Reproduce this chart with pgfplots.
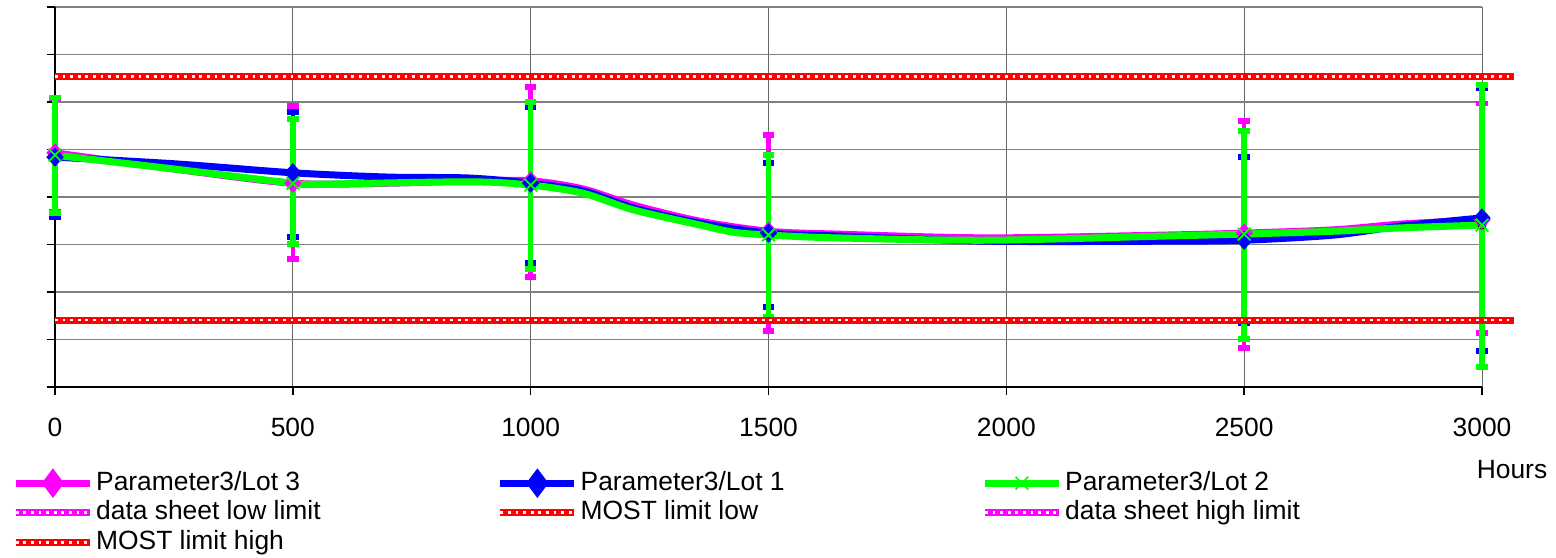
\documentclass[border=0pt]{standalone}
\usepackage{fontspec}
\setmainfont{Liberation Sans}
\usepackage{pgfplots}
\pgfplotsset{compat=1.18}
\usepackage{pgfplotstable}

\definecolor{lotm}{RGB}{255,0,255}
\definecolor{lotb}{RGB}{0,0,255}
\definecolor{lotg}{RGB}{0,255,0}
\definecolor{limred}{RGB}{255,0,0}
\definecolor{gridgray}{RGB}{128,128,128}

% smoothed lines (hours, value)
\pgfplotstableread{
h v
0 4.93
250 4.59
500 4.29
700 4.29
870 4.34
1000 4.34
1110 4.17
1216 3.83
1356 3.49
1500 3.28
1640 3.22
1960 3.14
2340 3.20
2500 3.24
2690 3.31
2830 3.43
3000 3.52
}\lotthree
\pgfplotstableread{
h v
0 4.84
250 4.70
500 4.51
700 4.42
870 4.40
1000 4.29
1110 4.13
1216 3.77
1356 3.45
1500 3.24
1640 3.18
1960 3.07
2340 3.07
2500 3.09
2690 3.20
2830 3.39
3000 3.56
}\lotone
\pgfplotstableread{
h v
0 4.88
250 4.59
500 4.29
550 4.27
870 4.32
1000 4.25
1110 4.08
1216 3.73
1356 3.41
1426 3.26
1500 3.20
1640 3.14
1960 3.09
2340 3.18
2500 3.22
2690 3.28
2830 3.35
3000 3.41
}\lottwo

% measured points with min / max
\pgfplotstableread{
h v hi lo
0 4.93 6.08 3.68
500 4.29 5.92 2.69
1000 4.34 6.32 2.32
1500 3.28 5.31 1.18
2500 3.24 5.60 0.82
3000 3.52 5.97 1.14
}\ptsthree
\pgfplotstableread{
h v hi lo
0 4.84 6.10 3.58
500 4.51 5.79 3.16
1000 4.29 5.90 2.61
1500 3.24 4.72 1.68
2500 3.09 4.84 1.35
3000 3.56 6.30 0.76
}\ptsone
\pgfplotstableread{
h v hi lo
0 4.88 6.10 3.66
500 4.29 5.64 3.01
1000 4.25 6.00 2.48
1500 3.20 4.88 1.47
2500 3.22 5.39 1.01
3000 3.41 6.36 0.42
}\ptstwo

\pgfplotsset{
  errb/.style 2 args={forget plot, only marks, mark=none,
    error bars/.cd, y dir=both, y explicit,
    error bar style={draw=#1, line width=#2},
    error mark options={draw=#1, fill=#1, rotate=90, line width=2.75pt, mark size=2.9pt}},
  limline/.style={color=#1, line width=3.5pt,
    postaction={draw=white, line width=1.4pt, dash pattern=on 1.4pt off 2.4pt}},
  limlegend/.style={legend image code/.code={\draw[##1] (0pt,0pt) -- (37pt,0pt);}},
}
\newcommand{\lbox}[1]{\makebox[199pt][l]{#1}}

\begin{document}
\begin{tikzpicture}
\path[use as bounding box] (-27.5pt,-85pt) rectangle (750.5pt,193.5pt);
\begin{axis}[
  at={(0,0)}, anchor=south west,
  width=713.5pt, height=190pt, scale only axis,
  xmin=0, xmax=3000, ymin=0, ymax=8,
  clip=false,
  axis x line*=bottom, axis y line*=left,
  axis line style={black, line width=0.8pt},
  tick style={black, line width=0.8pt},
  tick align=outside, major tick length=4pt,
  xtick={0,500,...,3000}, ytick={0,1,...,8}, yticklabels={,,,,,,,,},
  grid=major,
  x grid style={black!60, line width=0.5pt},
  y grid style={gridgray, line width=0.8pt},
  /pgf/number format/assume math mode=true,
  /pgf/number format/1000 sep={},
  xticklabel style={font=\fontsize{13.2}{15}\selectfont, yshift=-8pt},
  xlabel={Hours},
  xlabel style={at={(axis description cs:1,0)}, anchor=center, xshift=15pt, yshift=-41.5pt, font=\fontsize{13.2}{15}\selectfont},
  legend columns=3,
  legend cell align=left,
  legend style={font=\fontsize{13.2}{15}\selectfont, draw=none, fill=none,
    inner sep=0pt, row sep=0pt,
    at={(axis description cs:0,0)}, anchor=north west, xshift=-21.5pt, yshift=-40.5pt,
    nodes={inner sep=1.375pt, text height=9.5pt, text depth=2.5pt}},
]
% min/max bars
\addplot[errb={lotm}{2.2pt}] table[x=h, y=v, y error plus expr=\thisrow{hi}-\thisrow{v}, y error minus expr=\thisrow{v}-\thisrow{lo}] {\ptsthree};
\addplot[errb={lotb}{2.2pt}] table[x=h, y=v, y error plus expr=\thisrow{hi}-\thisrow{v}, y error minus expr=\thisrow{v}-\thisrow{lo}] {\ptsone};
\addplot[errb={lotg}{2.8pt}] table[x=h, y=v, y error plus expr=\thisrow{hi}-\thisrow{v}, y error minus expr=\thisrow{v}-\thisrow{lo}] {\ptstwo};

% lots
\addplot[lotm, line width=3.5pt, smooth, mark=none,
  legend image code/.code={\draw[lotm, line width=3.5pt] (0pt,0pt) -- (37pt,0pt);
    \path[lotm] plot[mark=diamond*, mark size=4.5pt] coordinates {(18.5pt,0pt)};}]
  table[x=h, y=v] {\lotthree};
\addlegendentry{\lbox{Parameter3/Lot 3}}
\addplot[lotb, line width=3.5pt, smooth, mark=none,
  legend image code/.code={\draw[lotb, line width=3.5pt] (0pt,0pt) -- (37pt,0pt);
    \path[lotb] plot[mark=diamond*, mark size=4.5pt] coordinates {(18.5pt,0pt)};}]
  table[x=h, y=v] {\lotone};
\addlegendentry{\lbox{Parameter3/Lot 1}}
\addplot[lotg, line width=3.5pt, smooth, mark=none,
  legend image code/.code={\draw[lotg, line width=3.5pt] (0pt,0pt) -- (37pt,0pt);
    \path[lotg, line width=0.8pt] plot[mark=x, mark size=4.5pt] coordinates {(18.5pt,0pt)};}]
  table[x=h, y=v] {\lottwo};
\addlegendentry{Parameter3/Lot 2}

% markers
\addplot[forget plot, only marks, mark=diamond*, mark size=4.5pt, lotm, mark options={xscale=1.2}] table[x=h, y=v] {\ptsthree};
\addplot[forget plot, only marks, mark=diamond*, mark size=4.5pt, lotb, mark options={xscale=1.2}] table[x=h, y=v] {\ptsone};
\addplot[forget plot, only marks, mark=x, mark size=4.5pt, lotg, line width=0.9pt] table[x=h, y=v] {\ptstwo};

% limits
\addplot[limline=lotm, limlegend] coordinates {(0,1.41) (3067,1.41)};
\addlegendentry{\lbox{data sheet low limit}}
\addplot[limline=limred, limlegend] coordinates {(0,1.41) (3067,1.41)};
\addlegendentry{\lbox{MOST limit low}}
\addplot[limline=lotm, limlegend] coordinates {(0,6.54) (3067,6.54)};
\addlegendentry{data sheet high limit}
\addplot[limline=limred, limlegend] coordinates {(0,6.54) (3067,6.54)};
\addlegendentry{\lbox{MOST limit high}}
\end{axis}
\end{tikzpicture}
\end{document}
